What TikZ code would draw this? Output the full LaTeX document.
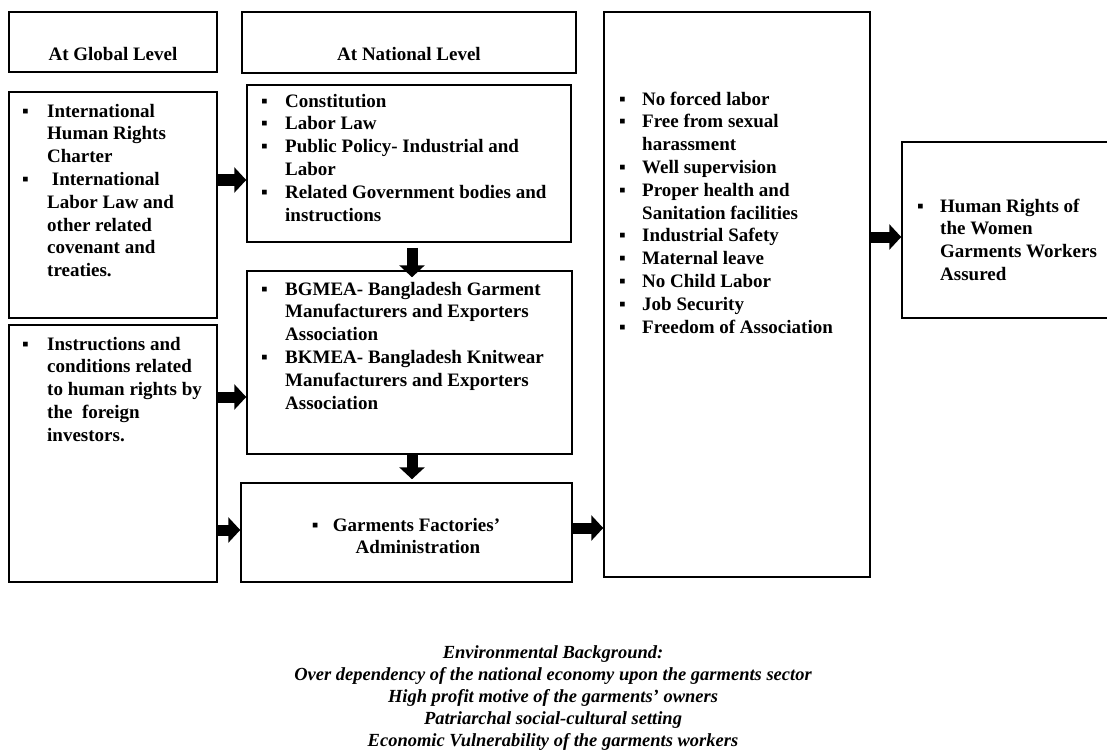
\documentclass[tikz,border=0pt]{standalone}
\usepackage{fontspec}
\setmainfont{Liberation Serif}
\usetikzlibrary{arrows.meta, positioning}
\newcommand{\bi}[1][25pt]{\makebox[#1][l]{▪}}

\begin{document}
\begin{tikzpicture}[x=1pt, y=-1pt,
    box/.style={rectangle, draw=black, line width=1.5pt, inner sep=0pt},
    lst/.style={anchor=north west, inner sep=0pt, align=left, font=\fontsize{19}{22.8}\selectfont\bfseries},
    head/.style={inner sep=0pt, font=\fontsize{19}{22.8}\selectfont\bfseries},
    note/.style={inner sep=0pt, align=center, font=\fontsize{18.5}{21.8}\selectfont\bfseries\itshape},
    arrow/.style={line width=11pt, -{Triangle[length=12pt, width=25pt]}}
]
\useasboundingbox (0,0) rectangle (1107,754);

% boxes
\node[box, minimum width=208, minimum height=60] (ghead) at (113,42) {};
\node[box, minimum width=334, minimum height=61] (nhead) at (409,42.5) {};
\node[box, minimum width=208, minimum height=226] (gbox1) at (113,205) {};
\node[box, minimum width=208, minimum height=257] (gbox2) at (113,453.5) {};
\node[box, minimum width=324, minimum height=157] (nbox1) at (409,163.5) {};
\node[box, minimum width=325, minimum height=183] (nbox2) at (409.5,362.5) {};
\node[box, minimum width=331, minimum height=99] (fbox) at (406.5,532.5) {};
\node[box, minimum width=266, minimum height=565] (lbox) at (737,294.5) {};
\node[box, minimum width=208, minimum height=176] (rbox) at (1006,230) {};

% texts
\node[head] (gtitle) at (113,54) {At Global Level};
\node[head] (ntitle) at (409,54) {At National Level};

\node[lst] (gtext1) at (22,101) {\begin{tabular}{@{}l@{}l@{}}
\bi & International\\
 & Human Rights\\
 & Charter\\
\bi & \ International\\
 & Labor Law and\\
 & other related\\
 & covenant and\\
 & treaties.
\end{tabular}};
\node[lst] (gtext2) at (22,334) {\begin{tabular}{@{}l@{}l@{}}
\bi & Instructions and\\
 & conditions related\\
 & to human rights by\\
 & the~ foreign\\
 & investors.
\end{tabular}};
\node[lst] (ntext1) at (261,91) {\begin{tabular}{@{}l@{}l@{}}
\bi[24pt] & Constitution\\
\bi[24pt] & Labor Law\\
\bi[24pt] & Public Policy- Industrial and\\
 & Labor\\
\bi[24pt] & Related Government bodies and\\
 & instructions
\end{tabular}};
\node[lst] (ntext2) at (261,279) {\begin{tabular}{@{}l@{}l@{}}
\bi[24pt] & BGMEA- Bangladesh Garment\\
 & Manufacturers and Exporters\\
 & Association\\
\bi[24pt] & BKMEA- Bangladesh Knitwear\\
 & Manufacturers and Exporters\\
 & Association
\end{tabular}};
\node[head, align=center] (ftext) at (406,536) {\bi[21pt]Garments Factories'\\\hspace*{24pt}Administration};
\node[lst] (ltext) at (619,89) {\begin{tabular}{@{}l@{}l@{}}
\bi[23pt] & No forced labor\\
\bi[23pt] & Free from sexual\\
 & harassment\\
\bi[23pt] & Well supervision\\
\bi[23pt] & Proper health and\\
 & Sanitation facilities\\
\bi[23pt] & Industrial Safety\\
\bi[23pt] & Maternal leave\\
\bi[23pt] & No Child Labor\\
\bi[23pt] & Job Security\\
\bi[23pt] & Freedom of Association
\end{tabular}};
\node[lst] (rtext) at (917,196) {\begin{tabular}{@{}l@{}l@{}}
\bi[23pt] & Human Rights of\\
 & the Women\\
 & Garments Workers\\
 & Assured
\end{tabular}};

\node[note] (env) at (553,698) {Environmental Background:\\
Over dependency of the national economy upon the garments sector\\
High profit motive of the garments' owners\\
Patriarchal social-cultural setting\\
Economic Vulnerability of the garments workers};

% arrows
\draw[arrow] ([yshift=25pt]gbox1.east) -- ([yshift=-16.5pt]nbox1.west);
\draw[arrow] ([yshift=56.5pt]gbox2.east) -- ([yshift=-34.5pt]nbox2.west);
\draw[arrow] ([yshift=-76.5pt]gbox2.east) -- ([yshift=2.5pt]fbox.west);
\draw[arrow, shorten <=5pt, shorten >=-7pt] ([xshift=3pt]nbox1.south) -- ([xshift=2.5pt]nbox2.north);
\draw[arrow, shorten >=3pt] ([xshift=2.5pt]nbox2.south) -- ([xshift=5.5pt]fbox.north);
\draw[arrow] ([yshift=4.5pt]fbox.east) -- ([yshift=4.5pt]fbox.east -| lbox.west);
\draw[arrow] ([yshift=-7pt]rbox.west -| lbox.east) -- ([yshift=-7pt]rbox.west);

\end{tikzpicture}
\end{document}
